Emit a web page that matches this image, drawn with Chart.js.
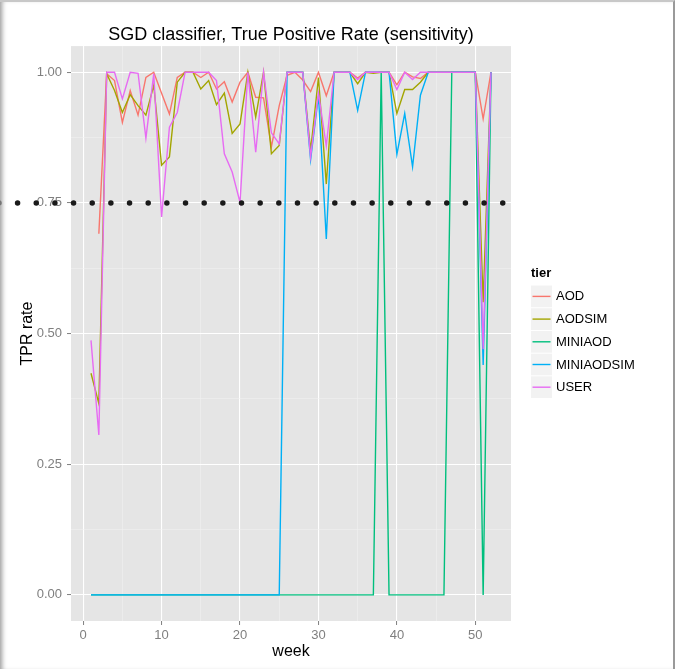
<!DOCTYPE html>
<html>
<head>
<meta charset="utf-8">
<script src="https://cdn.jsdelivr.net/npm/chart.js@4.4.0/dist/chart.umd.min.js"></script>
<style>
  html, body { margin: 0; padding: 0; background: #fff; }
  #wrap { position: relative; width: 675px; height: 669px; }
  #frame {
    position: absolute; left: 0; top: 0; width: 675px; height: 669px;
    box-sizing: border-box; border-top: 2px solid #c8c8c8; border-right: 2px solid #9a9a9a;
    box-shadow: inset 5px 0 5px -3px #999; pointer-events: none;
  }
</style>
</head>
<body>
<div id="wrap">
  <canvas id="grafico-tpr" width="675" height="669"></canvas>
  <div id="frame"></div>
</div>
<script>
// weeks on the x axis
const weeks = [1, 2, 3, 4, 5, 6, 7, 8, 9, 10, 11, 12, 13, 14, 15, 16, 17, 18, 19, 20, 21, 22, 23, 24, 25, 26,
               27, 28, 29, 30, 31, 32, 33, 34, 35, 36, 37, 38, 39, 40, 41, 42, 43, 44, 45, 46, 47, 48, 49, 50, 51, 52];

// TPR per tier (null = no data that week)
const tprAOD = [null, 0.691, 0.997, 0.984, 0.904, 0.965, 0.918, 0.99, 1, 0.96, 0.92, 0.99, 1, 1, 0.99, 1, 0.968, 0.982, 0.943, 0.981, 1, 0.952, 0.951, 0.857, 0.936, 0.994,
                1, 0.985, 0.963, 1, 0.955, 1, 1, 1, 0.989, 1, 1, 1, 1, 0.976, 1, 0.991, 0.988, 1, 1, 1, 1, 1, 1, 1, 0.911, 1];
const tprAODSIM = [0.424, 0.366, 0.997, 0.965, 0.923, 0.957, 0.936, 0.918, 0.975, 0.822, 0.838, 0.981, 1, 1, 0.968, 0.984, 0.938, 0.96, 0.883, 0.901, 1, 0.914, 1, 0.844, 0.86, 1,
                   1, 1, 0.85, 0.99, 0.786, 1, 1, 1, 0.978, 1, 0.998, 1, 1, 0.921, 0.967, 0.967, 0.981, 1, 1, 1, 1, 1, 1, 1, 0.56, 1];
const tprMINIAOD = [0, 0, 0, 0, 0, 0, 0, 0, 0, 0, 0, 0, 0, 0, 0, 0, 0, 0, 0, 0, 0, 0, 0, 0, 0, 0,
                    0, 0, 0, 0, 0, 0, 0, 0, 0, 0, 0, 1, 0, 0, 0, 0, 0, 0, 0, 0, 1, 1, 1, 1, 0, 1];
const tprMINIAODSIM = [0, 0, 0, 0, 0, 0, 0, 0, 0, 0, 0, 0, 0, 0, 0, 0, 0, 0, 0, 0, 0, 0, 0, 0, 0, 1,
                       1, 1, 0.833, 0.955, 0.681, 1, 1, 1, 0.927, 1, 1, 1, 1, 0.843, 0.921, 0.819, 0.956, 1, 1, 1, 1, 1, 1, 1, 0.44, 1];
const tprUSER = [0.487, 0.306, 1, 1, 0.949, 1, 0.998, 0.874, 0.997, 0.723, 0.895, 0.923, 1, 1, 1, 1, 0.984, 0.844, 0.809, 0.751, 1, 0.847, 1, 0.884, 0.863, 1,
                 1, 1, 0.838, 0.96, 0.859, 1, 1, 1, 0.986, 1, 1, 1, 1, 0.967, 1, 0.986, 1, 1, 1, 1, 1, 1, 1, 1, 0.47, 1];

const tiers = ['AOD', 'AODSIM', 'MINIAOD', 'MINIAODSIM', 'USER'];
const tierColors = ['#F8766D', '#A3A500', '#00BF7D', '#00B0F6', '#E76BF3'];
const tierValues = [tprAOD, tprAODSIM, tprMINIAOD, tprMINIAODSIM, tprUSER];

// dotted reference line at 0.75 (x extent in weeks, as drawn)
const thresholdY = 0.75;
const thresholdX = [-10.74, 53.75];

const xTicks = [0, 5, 10, 15, 20, 25, 30, 35, 40, 45, 50];
const yTicks = [0, 0.125, 0.25, 0.375, 0.5, 0.625, 0.75, 0.875, 1];

const FONT = '"Liberation Sans", Arial, Helvetica, sans-serif';
const GREY = '#7F7F7F';

function esMayorX(v) { return v % 10 === 0; }
function esMayorY(v) { return Math.abs(v * 4 - Math.round(v * 4)) < 1e-9; }

// grey panel behind the grid
const fondoPanel = {
    id: 'fondoPanel',
    beforeDraw(chart) {
        const a = chart.chartArea;
        const ctx = chart.ctx;
        ctx.save();
        ctx.fillStyle = '#E5E5E5';
        ctx.fillRect(a.left, a.top, a.right - a.left, a.bottom - a.top);
        ctx.restore();
    }
};

// ggplot-like legend on the right
const leyendaTier = {
    id: 'leyendaTier',
    afterDraw(chart) {
        const a = chart.chartArea;
        const ctx = chart.ctx;
        const x0 = a.right + 20;
        const yMid = (a.top + a.bottom) / 2;
        const top = yMid - 48;
        const fila = 22.7;
        ctx.save();
        ctx.fillStyle = '#000';
        ctx.font = 'bold 13px ' + FONT;
        ctx.textBaseline = 'middle';
        ctx.textAlign = 'left';
        ctx.fillText('tier', x0, top - 12);
        for (let i = 0; i < tiers.length; i++) {
            const y = top + i * fila;
            ctx.fillStyle = '#F2F2F2';
            ctx.fillRect(x0, y, 21, fila - 1);
            ctx.strokeStyle = tierColors[i];
            ctx.lineWidth = 1.4;
            ctx.beginPath();
            ctx.moveTo(x0 + 1.5, y + fila / 2 - 0.5);
            ctx.lineTo(x0 + 19.5, y + fila / 2 - 0.5);
            ctx.stroke();
            ctx.fillStyle = '#000';
            ctx.font = '13px ' + FONT;
            ctx.fillText(tiers[i], x0 + 25, y + fila / 2);
        }
        ctx.restore();
    }
};

const datasets = tiers.map((t, i) => ({
    label: t,
    data: weeks.map((w, j) => ({ x: w, y: tierValues[i][j] })),
    borderColor: tierColors[i],
    backgroundColor: tierColors[i],
    borderWidth: 1.4,
    pointRadius: 0,
    fill: false,
    spanGaps: false,
    tension: 0,
    order: tiers.length - i
}));

datasets.push({
    label: 'threshold',
    data: thresholdX.map(x => ({ x: x, y: thresholdY })),
    borderColor: '#1a1a1a',
    borderWidth: 5.5,
    borderDash: [0, 18.66],
    borderCapStyle: 'round',
    pointRadius: 0,
    fill: false,
    clip: false,
    order: 0
});

const ctx = document.getElementById('grafico-tpr').getContext('2d');
new Chart(ctx, {
    type: 'line',
    data: { datasets: datasets },
    plugins: [fondoPanel, leyendaTier],
    options: {
        responsive: false,
        animation: false,
        events: [],
        layout: { padding: { left: 0, right: 164, top: 0, bottom: 0 } },
        plugins: {
            legend: { display: false },
            tooltip: { enabled: false },
            title: {
                display: true,
                fullSize: false,
                text: 'SGD classifier, True Positive Rate (sensitivity)',
                color: '#000',
                font: { family: FONT, size: 18, weight: 'normal' },
                padding: { top: 24, bottom: 0.5 }
            }
        },
        scales: {
            x: {
                type: 'linear',
                min: -1.55,
                max: 54.55,
                afterBuildTicks: s => { s.ticks = xTicks.map(v => ({ value: v })); },
                afterFit: s => { s.height = 48; },
                border: { display: false },
                grid: {
                    color: c => esMayorX(c.tick.value) ? '#FFFFFF' : '#F2F2F2',
                    lineWidth: c => esMayorX(c.tick.value) ? 1.1 : 0.55,
                    tickColor: c => esMayorX(c.tick.value) ? GREY : 'rgba(0,0,0,0)',
                    tickLength: 4,
                    tickWidth: 1
                },
                ticks: {
                    autoSkip: false,
                    maxRotation: 0,
                    padding: 3,
                    color: GREY,
                    font: { family: FONT, size: 13 },
                    callback: v => esMayorX(v) ? String(v) : ''
                },
                title: {
                    display: true,
                    text: 'week',
                    color: '#000',
                    font: { family: FONT, size: 16 },
                    padding: { top: 0, bottom: 8 }
                }
            },
            y: {
                type: 'linear',
                min: -0.05,
                max: 1.05,
                afterBuildTicks: s => { s.ticks = yTicks.map(v => ({ value: v })); },
                afterFit: s => { s.width = 71; },
                border: { display: false },
                grid: {
                    color: c => esMayorY(c.tick.value) ? '#FFFFFF' : '#F2F2F2',
                    lineWidth: c => esMayorY(c.tick.value) ? 1.1 : 0.55,
                    tickColor: c => esMayorY(c.tick.value) ? GREY : 'rgba(0,0,0,0)',
                    tickLength: 4,
                    tickWidth: 1
                },
                ticks: {
                    autoSkip: false,
                    padding: 5,
                    color: GREY,
                    font: { family: FONT, size: 13 },
                    callback: v => esMayorY(v) ? v.toFixed(2) : ''
                },
                title: {
                    display: true,
                    text: 'TPR rate',
                    color: '#000',
                    font: { family: FONT, size: 16 },
                    padding: { top: 18, bottom: 0 }
                }
            }
        }
    }
});
</script>
</body>
</html>
